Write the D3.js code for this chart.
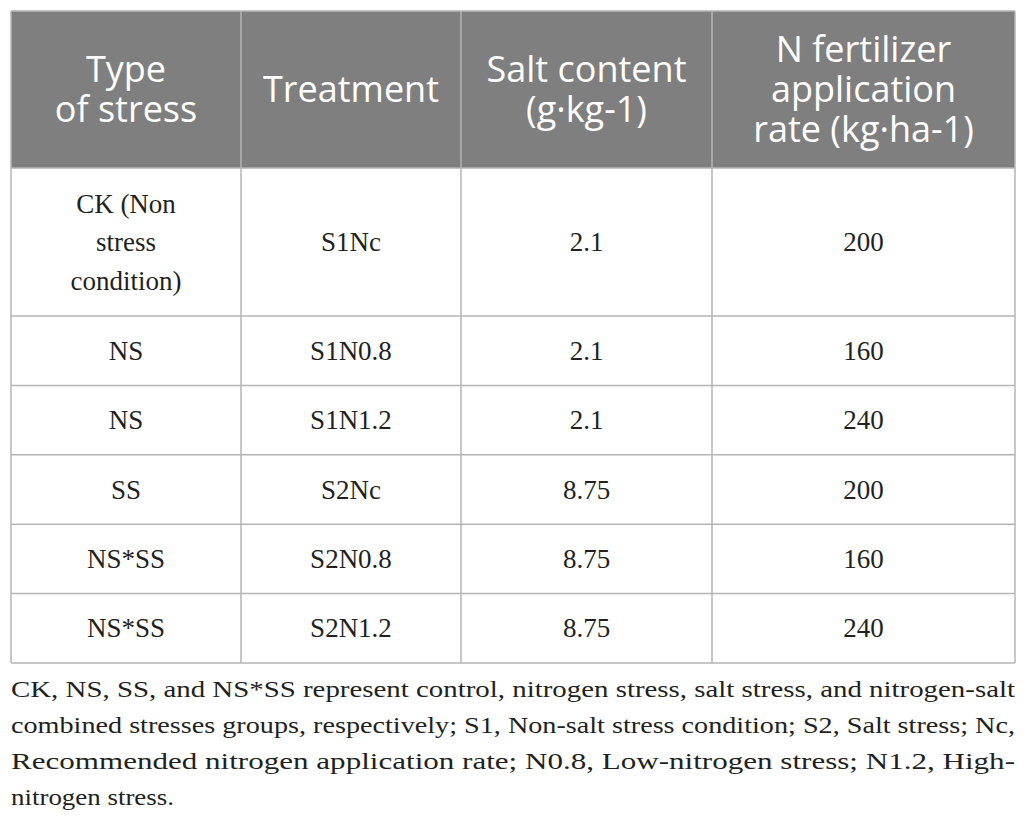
<!DOCTYPE html>
<html>
<head>
<meta charset="utf-8">
<script src="https://cdn.jsdelivr.net/npm/d3@7"></script>
<style>
  body { margin: 0; background: #fff; }
</style>
</head>
<body>
<svg id="main-svg" width="1026" height="822"></svg>
<script>
// table content
var headers = [
    ['Type', 'of stress'],
    ['Treatment'],
    ['Salt content', '(g·kg-1)'],
    ['N fertilizer', 'application', 'rate (kg·ha-1)']
];
var stressTypes = [['CK (Non', 'stress', 'condition)'], ['NS'], ['NS'], ['SS'], ['NS*SS'], ['NS*SS']];
var treatments = ['S1Nc', 'S1N0.8', 'S1N1.2', 'S2Nc', 'S2N0.8', 'S2N1.2'];
var saltContent = ['2.1', '2.1', '2.1', '8.75', '8.75', '8.75'];
var nRate = ['200', '160', '240', '200', '160', '240'];
var footnote = [
    'CK, NS, SS, and NS*SS represent control, nitrogen stress, salt stress, and nitrogen-salt',
    'combined stresses groups, respectively; S1, Non-salt stress condition; S2, Salt stress; Nc,',
    'Recommended nitrogen application rate; N0.8, Low-nitrogen stress; N1.2, High-',
    'nitrogen stress.'
];

var svg = d3.select('#main-svg');

var tLeft = 11, tRight = 1015, tTop = 11, headBottom = 168, firstBottom = 316, tBottom = 663;
var colEdges = [tLeft, 241, 461, 712, tRight];
var lineCol = '#b4b4b4';

// columns: index -> left edge
var xEdge = d3.scaleOrdinal().domain([0, 1, 2, 3, 4]).range(colEdges);
var xMid = function(i) { return (xEdge(i) + xEdge(i + 1)) / 2; };

// rows after the first share one height
var yRow = d3.scaleLinear().domain([1, stressTypes.length]).range([firstBottom, tBottom]);
var rowTop = function(i) { return i === 0 ? headBottom : yRow(i); };
var rowBottom = function(i) { return i === 0 ? firstBottom : yRow(i + 1); };

// header block
svg.append('rect')
    .attr('x', tLeft).attr('y', tTop)
    .attr('width', tRight - tLeft).attr('height', headBottom - tTop)
    .attr('fill', '#7f7f7f');

var headSize = 36, headLead = 40;
headers.forEach(function(lines, c) {
    var cy = (tTop + headBottom) / 2;
    var first = cy - (lines.length - 1) * headLead / 2 + headSize * 0.36;
    var t = svg.append('text')
        .attr('text-anchor', 'middle')
        .attr('font-family', '"Open Sans", sans-serif')
        .attr('font-size', headSize)
        .attr('fill', '#fff');
    lines.forEach(function(s, k) {
        t.append('tspan').attr('x', xMid(c)).attr('y', first + k * headLead).text(s);
    });
});

// body cells
var bodySize = 27, bodyLead = 38.5;
var columns = [stressTypes, treatments.map(function(d) { return [d]; }),
    saltContent.map(function(d) { return [d]; }), nRate.map(function(d) { return [d]; })];
columns.forEach(function(col, c) {
    col.forEach(function(lines, r) {
        var cy = (rowTop(r) + rowBottom(r)) / 2;
        var first = cy - (lines.length - 1) * bodyLead / 2 + bodySize * 0.34;
        var t = svg.append('text')
            .attr('text-anchor', 'middle')
            .attr('font-family', '"Liberation Serif", serif')
            .attr('font-size', bodySize)
            .attr('fill', '#231f20');
        lines.forEach(function(s, k) {
            t.append('tspan').attr('x', xMid(c)).attr('y', first + k * bodyLead).text(s);
        });
    });
});

// grid lines
var grid = svg.append('g').attr('stroke', lineCol).attr('stroke-width', 1.5).attr('fill', 'none');
for (var r = 0; r <= stressTypes.length; r++) {
    var y = r === 0 ? headBottom : rowBottom(r - 1);
    grid.append('line').attr('x1', tLeft).attr('x2', tRight).attr('y1', y).attr('y2', y);
}
grid.append('line').attr('x1', tLeft).attr('x2', tRight).attr('y1', tTop).attr('y2', tTop);
colEdges.forEach(function(x) {
    grid.append('line')
        .attr('x1', x).attr('x2', x)
        .attr('y1', tTop).attr('y2', tBottom);
});

// footnote, justified like the source (condensed face squeezed to width)
var footSize = 23.5, footBase = 697, footLead = 36;
footnote.forEach(function(s, k) {
    var t = svg.append('text')
        .attr('x', tLeft)
        .attr('y', footBase + k * footLead)
        .attr('font-family', '"Liberation Serif", serif')
        .attr('font-size', footSize)
        .attr('fill', '#231f20')
        .attr('lengthAdjust', 'spacingAndGlyphs')
        .text(s);
    t.attr('textLength', k < footnote.length - 1 ? tRight - tLeft : 163);
});
</script>
</body>
</html>
